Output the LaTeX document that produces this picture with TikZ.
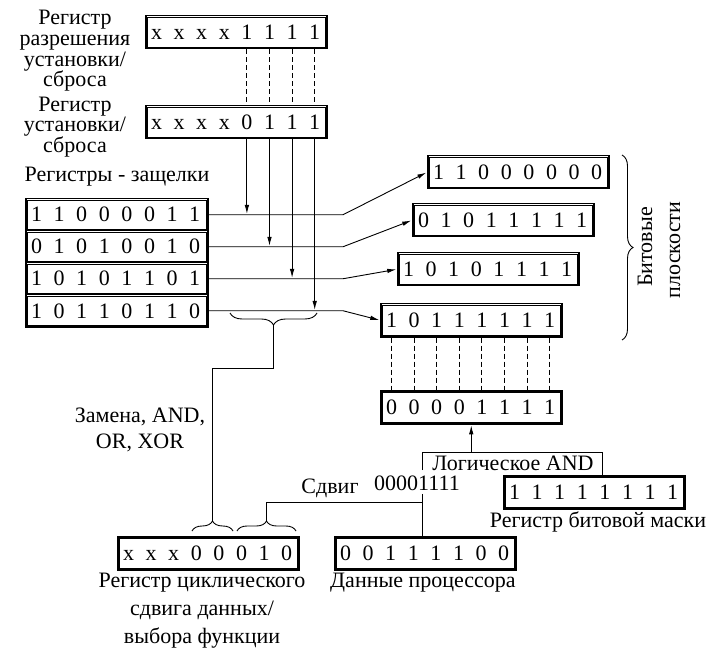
\documentclass[tikz,border=0pt]{standalone}
\usepackage{fontspec}
\setmainfont{Liberation Serif}
\usetikzlibrary{arrows.meta,decorations.pathreplacing,calc}
\tikzset{
 regbox/.style={draw, line width=1.5pt, minimum width=181pt, minimum height=33pt, inner sep=0pt, anchor=north west},
 innerbox/.style={line width=0.6pt},
 bitlbl/.style={inner sep=0pt, text height=14.5pt, text depth=0pt},
 lbl/.style={align=center, inner sep=0pt},
 conn/.style={line width=0.9pt},
 arr/.style={conn, -{Latex[length=9pt,width=4.5pt]}, shorten >=0.8pt},
 dsh/.style={conn, dash pattern=on 5pt off 3pt},
 brc/.style={conn, decorate, decoration={brace, amplitude=#1}},
 brc/.default=11pt,
}
\newcommand\bitreg[5]{%
 \node[regbox, #1] (#2) at (#3,#4) {};
 \draw[innerbox] ([shift={(2.5pt,-2.5pt)}]#2.north west) rectangle ([shift={(-2.5pt,2.5pt)}]#2.south east);
 \foreach \b [count=\i] in {#5} {%
   \pgfmathsetmacro\bx{11.5+(\i-1)*22.6}%
   \node[bitlbl] (#2-\i) at ([xshift=\bx pt]#2.west) {\b};}%
}
\begin{document}
\begin{tikzpicture}[x=1pt,y=-1pt, font=\fontsize{22}{21}\selectfont]
\useasboundingbox (0,0) rectangle (712,652);
% registers
\bitreg{}{E}{145}{15}{x,x,x,x,1,1,1,1}
\bitreg{}{S}{145}{105}{x,x,x,x,0,1,1,1}
\bitreg{minimum width=182pt, minimum height=32pt}{L1}{25}{198}{1,1,0,0,0,0,1,1}
\bitreg{minimum width=182pt, minimum height=32pt}{L2}{25}{230}{0,1,0,1,0,0,1,0}
\bitreg{minimum width=182pt, minimum height=32pt}{L3}{25}{262}{1,0,1,0,1,1,0,1}
\bitreg{minimum width=182pt, minimum height=32pt}{L4}{25}{294}{1,0,1,1,0,1,1,0}
\bitreg{}{P1}{427}{155}{1,1,0,0,0,0,0,0}
\bitreg{}{P2}{412}{203}{0,1,0,1,1,1,1,1}
\bitreg{}{P3}{397}{252}{1,0,1,0,1,1,1,1}
\bitreg{}{P4}{380}{303}{1,0,1,1,1,1,1,1}
\bitreg{}{R}{380}{390}{0,0,0,0,1,1,1,1}
\bitreg{}{M}{503}{475}{1,1,1,1,1,1,1,1}
\bitreg{}{F}{117}{536}{x,x,x,0,0,0,1,0}
\bitreg{}{D}{334}{536}{0,0,1,1,1,1,0,0}
% labels
\node[lbl, font=\fontsize{22}{20.7}\selectfont] (tE) at (75,51) {Регистр\\разрешения\\установки/\\сброса};
\node[lbl, font=\fontsize{22}{20.7}\selectfont] (tS) at (75,127) {Регистр\\установки/\\сброса};
\node (tL) at (117,177) {Регистры - защелки};
\node[lbl, font=\fontsize{22}{26}\selectfont] (tOp) at (140,430) {Замена, AND,\\OR, XOR};
\node[lbl, font=\fontsize{22}{28}\selectfont] (tF) at (202,611) {Регистр циклического\\сдвига данных/\\выбора функции};
\node (tD) at (423,583) {Данные процессора};
\node (tM) at (598,522) {Регистр битовой маски};
\node (tAnd) at (513,463) {Логическое AND};
\node (tSh) at (330,488) {Сдвиг};
\node (t0) at (417,483) {00001111};
\node[rotate=90] (tB1) at (645,247) {Битовые};
\node[rotate=90] (tB2) at (675,250) {плоскости};
% dashed E -> S
\foreach \i in {5,...,8} \draw[dsh] (E-\i |- E.south) -- (E-\i |- S.north);
% S -> latch lines
\draw[arr] (S-5 |- S.south) -- (S-5 |- L1.east);
\draw[arr] (S-6 |- S.south) -- (S-6 |- L2.east);
\draw[arr] (S-7 |- S.south) -- (S-7 |- L3.east);
\draw[arr] (S-8 |- S.south) -- (S-8 |- L4.east);
% latch -> planes
\coordinate (k) at (343,0);
\draw[arr] (L1.east) -- (L1.east -| k) -- (P1.west);
\draw[arr] (L2.east) -- (L2.east -| k) -- (P2.west);
\draw[arr] (L3.east) -- (L3.east -| k) -- (P3.west);
\draw[arr] (L4.east) -- (L4.east -| k) -- (P4.west);
% dashed P4 -> R
\foreach \i in {1,...,8} \draw[dsh] (P4-\i |- P4.south) -- (P4-\i |- R.north);
% braces
\draw[brc=12pt] (317,313) -- (230,313);
\coordinate (bt) at (273.5,325);
\draw[brc=10pt] (192,531) -- (233,531);
\coordinate (ft1) at (212.5,521);
\draw[brc=10pt] (237,531) -- (296,531);
\coordinate (ft2) at (266.5,521);
\draw[brc] (622,155) -- (622,340);
% function select line
\draw[conn] (bt) -- ++(0,43) -| (ft1);
% shift line
\coordinate (j) at (422,502);
\draw[conn] (ft2) |- (j);
\draw[conn] (t0.south -| j) -- (j |- D.north);
% logical AND
\coordinate (a1) at (422,470);
\coordinate (a2) at (602,452);
\draw[conn] (a1) |- (a2) -- (a2 |- M.north);
\draw[arr] (R.south |- a2) -- (R.south);
\end{tikzpicture}
\end{document}
